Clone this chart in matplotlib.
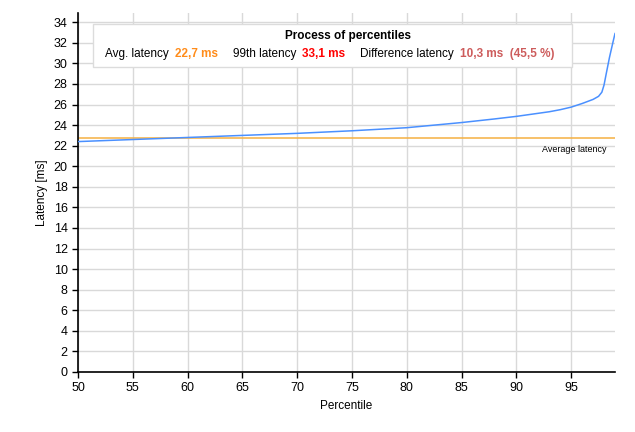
import matplotlib
matplotlib.use("Agg")
import matplotlib.pyplot as plt
import numpy as np

percentiles = [50, 55, 60, 65, 70, 75, 80, 85, 88, 90, 92, 93, 94, 95, 96, 97, 97.5, 97.8, 98.0, 98.2, 98.5, 98.8, 99.0]
latency = [22.4, 22.6, 22.8, 23.0, 23.2, 23.45, 23.75, 24.25, 24.6, 24.85, 25.15, 25.3, 25.5, 25.75, 26.1, 26.5, 26.8, 27.2, 27.9, 29.0, 30.6, 32.0, 32.9]
avg_latency = 22.7
x_ticks = [50, 55, 60, 65, 70, 75, 80, 85, 90, 95]
y_ticks = list(range(0, 35, 2))

plt.rcParams['font.family'] = ['Liberation Sans', 'DejaVu Sans']
fig = plt.figure(figsize=(6.35, 4.32), dpi=100)
ax = fig.add_axes([78/635, 1-372/432, (615-78)/635, (372-13)/432])

ax.plot(percentiles, latency, color='#4a90ff', lw=1.1, zorder=3)
ax.axhline(avg_latency, color='#f5b041', lw=1.1, zorder=2)
ax.text(0.985, avg_latency - 0.6, 'Average latency', transform=ax.get_yaxis_transform(),
        ha='right', va='top', fontsize=6.5)

ax.set_xlim(50, 99)
ax.set_ylim(0, 34.9)
ax.set_xticks(x_ticks)
ax.set_yticks(y_ticks)
ax.tick_params(labelsize=9, length=4, width=1)
ax.grid(True, color='#d9d9d9', lw=1)
ax.set_axisbelow(True)
for s in ['top', 'right']:
    ax.spines[s].set_visible(False)
ax.spines['left'].set_linewidth(1.2)
ax.spines['bottom'].set_linewidth(1.2)
ax.set_xlabel('Percentile', fontsize=8.5)
ax.set_ylabel('Latency [ms]', fontsize=8.5)

# legend-like box
from matplotlib.patches import Rectangle
box = Rectangle((93/635, 1-67/432), (572-93)/635, (67-24)/432, transform=fig.transFigure,
                facecolor='white', edgecolor='#dcdcdc', lw=1, zorder=5)
fig.patches.append(box)
fig.text(348/635, 1-36/432, 'Process of percentiles', ha='center', va='center', fontsize=8.5,
         fontweight='bold', zorder=6)
yrow = 1-54/432
items = [
    (105, 'Avg. latency', 'black', 'normal'),
    (175, '22,7 ms', '#ff8c1a', 'bold'),
    (233, '99th latency', 'black', 'normal'),
    (302, '33,1 ms', '#ff0000', 'bold'),
    (360, 'Difference latency', 'black', 'normal'),
    (460, '10,3 ms  (45,5 %)', '#cd5c5c', 'bold'),
]
for x, t, c, w in items:
    fig.text(x/635, yrow, t, ha='left', va='center', fontsize=8.5, color=c, fontweight=w, zorder=6)

fig.savefig('out.png', dpi=100)
